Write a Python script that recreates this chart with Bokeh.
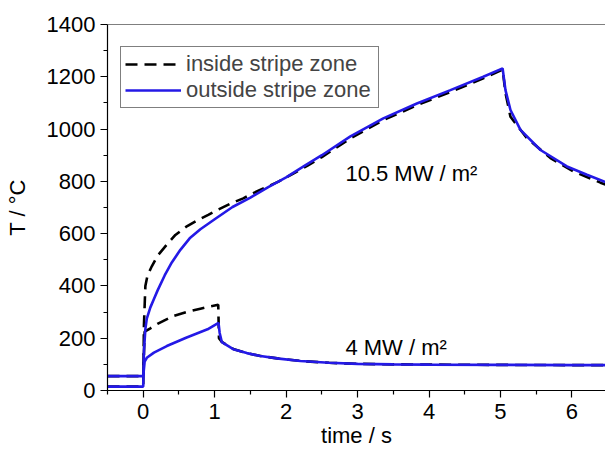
from bokeh.plotting import figure
from bokeh.models import Range1d, FixedTicker, Span, ColumnDataSource
from bokeh.core.properties import value
from bokeh.embed import file_html
from bokeh.resources import INLINE

# 10.5 MW/m2 - outside stripe zone (blue)
t_out_hi = [-0.5, 0.0, 0.01, 0.03, 0.05, 0.1, 0.15, 0.2, 0.3, 0.4, 0.52, 0.65, 0.8, 1.0, 1.25,
            1.5, 1.75, 2.0, 2.25, 2.5, 2.9, 3.36, 3.83, 4.3, 4.76, 5.03, 5.07, 5.14, 5.28,
            5.56, 5.93, 6.21, 6.47]
T_out_hi = [15, 15, 150, 235, 275, 318, 350, 382, 440, 490, 538, 582, 617, 655, 702,
            738, 778, 815, 858, 900, 972, 1041, 1098, 1149, 1200, 1232, 1149, 1073, 997,
            920, 857, 825, 797]

# 10.5 MW/m2 - inside stripe zone (black dashed)
t_in_hi = [-0.5, 0.0, 0.01, 0.03, 0.06, 0.12, 0.2, 0.33, 0.45, 0.61, 0.75, 0.91, 1.05, 1.24,
           1.4, 1.54, 1.7, 1.9, 2.1, 2.3, 2.5, 2.9, 3.36, 3.83, 4.3, 4.76, 5.03, 5.07,
           5.14, 5.37, 5.7, 6.02, 6.4, 6.47]
T_in_hi = [15, 15, 250, 400, 440, 475, 515, 558, 595, 628, 650, 672, 692, 717,
           735, 755, 775, 800, 830, 860, 893, 964, 1034, 1091, 1142, 1194, 1228, 1138,
           1047, 965, 889, 838, 795, 788]

# 4 MW/m2 - outside stripe zone (blue)
t_out_lo = [-0.5, 0.0, 0.02, 0.05, 0.15, 0.33, 0.6, 0.9, 1.054, 1.07, 1.1, 1.26, 1.45, 1.64,
            1.9, 2.2, 2.6, 3.0, 3.5, 4.0, 5.0, 6.0, 6.47]
T_out_lo = [55, 55, 110, 125, 145, 170, 202, 234, 259, 220, 185, 158, 143, 132,
            122, 113, 106, 102, 100, 99, 98, 97, 97]

# 4 MW/m2 - inside stripe zone (black dashed)
t_in_lo = [-0.5, 0.0, 0.02, 0.1, 0.2, 0.42, 0.6, 0.8, 0.94, 1.05, 1.06, 1.1, 1.26, 1.45,
           1.64, 1.9, 2.2, 2.6, 3.0, 3.5, 4.0, 5.0, 6.0, 6.47]
T_in_lo = [55, 55, 225, 238, 255, 285, 300, 313, 322, 328, 200, 186, 159, 143,
           132, 122, 113, 106, 102, 100, 99, 98, 97, 97]

x_ticks = [0, 1, 2, 3, 4, 5, 6]
x_minor = [-0.5, 0.5, 1.5, 2.5, 3.5, 4.5, 5.5, 6.5]
y_ticks = [0, 200, 400, 600, 800, 1000, 1200, 1400]
y_minor = [100, 300, 500, 700, 900, 1100, 1300]

labels = ["10.5 MW / m\u00b2", "4 MW / m\u00b2"]
label_x = [2.83, 2.83]
label_y = [829, 164]

FONT = "Liberation Sans"
FS = "22px"
BLUE = "#2419e6"

p = figure(width=605, height=450, output_backend="svg", toolbar_location=None,
           x_range=Range1d(-0.5, 6.47), y_range=Range1d(0, 1400),
           min_border_left=107, min_border_right=0, min_border_top=24, min_border_bottom=59)
p.outline_line_color = None
p.xgrid.visible = False
p.ygrid.visible = False
p.background_fill_color = "white"
p.border_fill_color = "white"

p.line(t_in_hi, T_in_hi, line_color="black", line_width=2.6, line_dash="12 7",
       legend_label="inside stripe zone")
p.line(t_in_lo, T_in_lo, line_color="black", line_width=2.6, line_dash="12 7")
p.line(t_out_hi, T_out_hi, line_color=BLUE, line_width=2.6, legend_label="outside stripe zone")
p.line(t_out_lo, T_out_lo, line_color=BLUE, line_width=2.6)

src = ColumnDataSource(dict(x=label_x, y=label_y, text=labels))
p.text(x="x", y="y", text="text", source=src, text_font=value(FONT),
       text_font_size=value(FS), text_color="black", text_baseline="alphabetic",
       text_align="left")

p.add_layout(Span(location=1400, dimension="width", line_color="black", line_width=1.2))

for ax in (p.xaxis[0], p.yaxis[0]):
    ax.axis_line_color = "black"
    ax.axis_line_width = 1.2
    ax.major_tick_line_color = "black"
    ax.minor_tick_line_color = "black"
    ax.major_tick_line_width = 1.2
    ax.minor_tick_line_width = 1.2
    ax.major_tick_in = 0
    ax.major_tick_out = 7
    ax.minor_tick_in = 0
    ax.minor_tick_out = 4
    ax.major_label_text_font = FONT
    ax.major_label_text_font_size = FS
    ax.major_label_text_color = "black"
    ax.axis_label_text_font = FONT
    ax.axis_label_text_font_size = FS
    ax.axis_label_text_font_style = "normal"
    ax.axis_label_text_color = "black"

p.xaxis.ticker = FixedTicker(ticks=x_ticks, minor_ticks=x_minor)
p.yaxis.ticker = FixedTicker(ticks=y_ticks, minor_ticks=y_minor)
p.xaxis.axis_label = "time / s"
p.yaxis.axis_label = "T / \u00b0C"
p.xaxis.major_label_standoff = 6
p.yaxis.major_label_standoff = 5
p.xaxis.axis_label_standoff = 1
p.yaxis.axis_label_standoff = 14

lg = p.legend[0]
lg.location = (13, 282)
lg.border_line_color = "black"
lg.border_line_width = 1
lg.background_fill_color = "white"
lg.background_fill_alpha = 1
lg.label_text_font = FONT
lg.label_text_font_size = FS
lg.glyph_width = 56
lg.glyph_height = 20
lg.label_height = 20
lg.label_width = 188
lg.label_standoff = 5
lg.padding = 4
lg.spacing = 0
lg.margin = 0

open("out.html", "w").write(file_html(p, INLINE))
